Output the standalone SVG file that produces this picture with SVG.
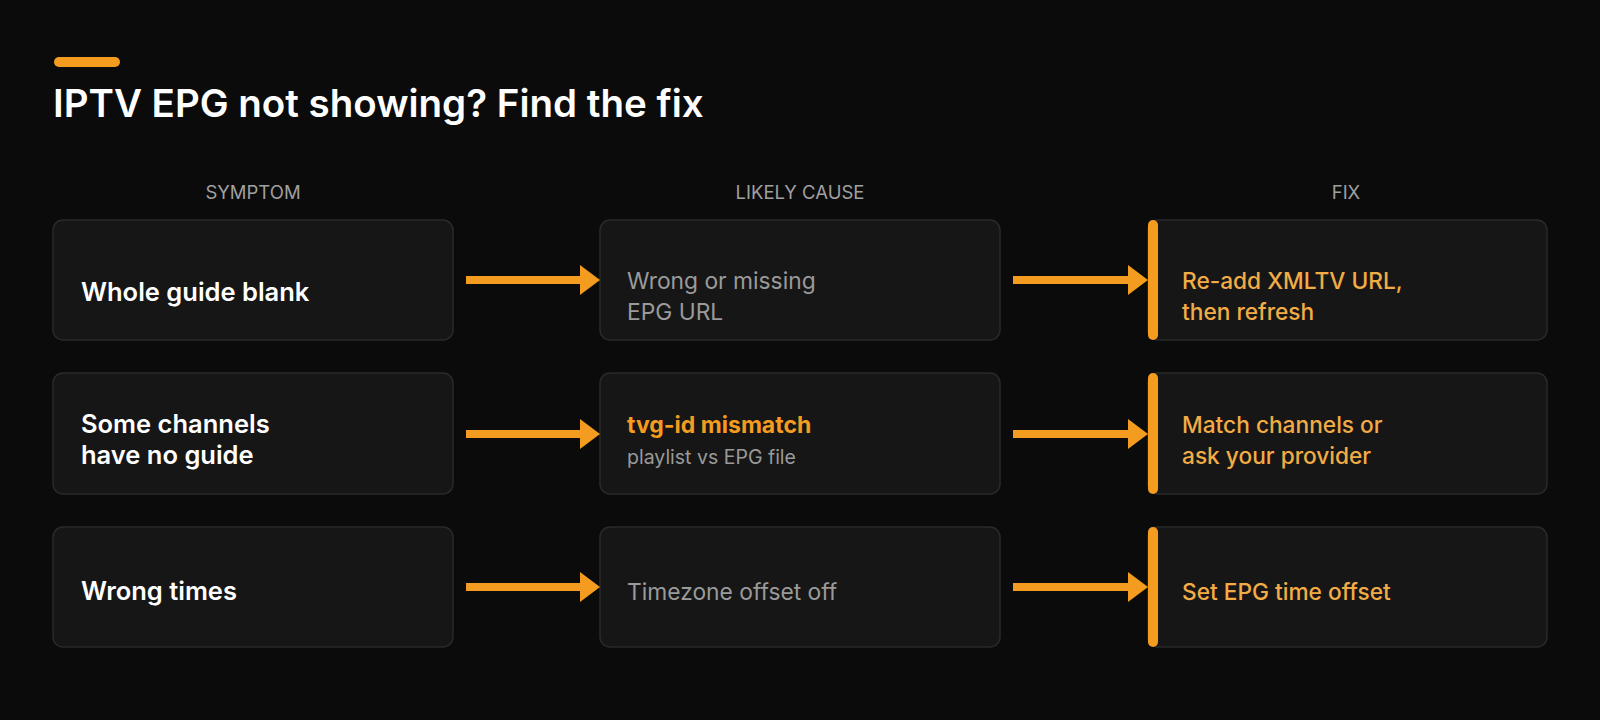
<svg xmlns="http://www.w3.org/2000/svg" width="1600" height="720" viewBox="0 0 1600 720">
<style>
text{font-family:Inter,"Noto Sans",sans-serif}
.box{fill:#161616;stroke:#2a2a2a;stroke-width:1.5}
.hd{fill:#a0a0a0;font-size:18.5px;text-anchor:middle}
.sym{fill:#fff;font-size:25.5px;font-weight:600}
.cause{fill:#9a9a9a;font-size:22.8px}
.causeb{fill:#f39c1f;font-size:23px;font-weight:700}
.sub{fill:#9a9a9a;font-size:19.5px}
.fix{fill:#f2ac45;font-size:22.7px;font-weight:500}
.bar{fill:#f39c1f}
.arr{stroke:#f39c1f;stroke-width:8;fill:none}
.head{fill:#f39c1f}
</style>
<rect width="1600" height="720" fill="#0b0b0b"/>
<rect x="54" y="57" width="66" height="10" rx="5" class="bar"/>
<text x="53" y="117" fill="#fff" font-size="38.5" font-weight="600">IPTV EPG not showing? Find the fix</text>
<text x="253" y="199" class="hd">SYMPTOM</text>
<text x="800" y="199" class="hd">LIKELY CAUSE</text>
<text x="1346" y="199" class="hd">FIX</text>
<g id="s1"><rect x="53" y="220" width="400" height="120" rx="10" class="box"/><text x="81" y="301" class="sym">Whole guide blank</text></g>
<g id="c1"><rect x="600" y="220" width="400" height="120" rx="10" class="box"/><text x="627" y="289" class="cause">Wrong or missing</text><text x="627" y="320" class="cause">EPG URL</text></g>
<g id="f1"><rect x="1148" y="220" width="399" height="120" rx="10" class="box"/><rect x="1148" y="220" width="10" height="120" rx="5" class="bar"/><text x="1182" y="289" class="fix">Re-add XMLTV URL,</text><text x="1182" y="320" class="fix">then refresh</text></g>
<g id="s2"><rect x="53" y="373" width="400" height="121" rx="10" class="box"/><text x="81" y="433" class="sym">Some channels</text><text x="81" y="464" class="sym">have no guide</text></g>
<g id="c2"><rect x="600" y="373" width="400" height="121" rx="10" class="box"/><text x="627" y="433" class="causeb">tvg-id mismatch</text><text x="627" y="464" class="sub">playlist vs EPG file</text></g>
<g id="f2"><rect x="1148" y="373" width="399" height="121" rx="10" class="box"/><rect x="1148" y="373" width="10" height="121" rx="5" class="bar"/><text x="1182" y="433" class="fix">Match channels or</text><text x="1182" y="464" class="fix">ask your provider</text></g>
<g id="s3"><rect x="53" y="527" width="400" height="120" rx="10" class="box"/><text x="81" y="600" class="sym">Wrong times</text></g>
<g id="c3"><rect x="600" y="527" width="400" height="120" rx="10" class="box"/><text x="627" y="600" class="cause">Timezone offset off</text></g>
<g id="f3"><rect x="1148" y="527" width="399" height="120" rx="10" class="box"/><rect x="1148" y="527" width="10" height="120" rx="5" class="bar"/><text x="1182" y="600" class="fix">Set EPG time offset</text></g>
<g id="connectors">
<line x1="466" y1="280" x2="582" y2="280" class="arr"/><polygon points="580,265 600,280 580,295" class="head"/>
<line x1="1013" y1="280" x2="1130" y2="280" class="arr"/><polygon points="1128,265 1148,280 1128,295" class="head"/>
<line x1="466" y1="434" x2="582" y2="434" class="arr"/><polygon points="580,419 600,434 580,449" class="head"/>
<line x1="1013" y1="434" x2="1130" y2="434" class="arr"/><polygon points="1128,419 1148,434 1128,449" class="head"/>
<line x1="466" y1="587" x2="582" y2="587" class="arr"/><polygon points="580,572 600,587 580,602" class="head"/>
<line x1="1013" y1="587" x2="1130" y2="587" class="arr"/><polygon points="1128,572 1148,587 1128,602" class="head"/>
</g>
</svg>
